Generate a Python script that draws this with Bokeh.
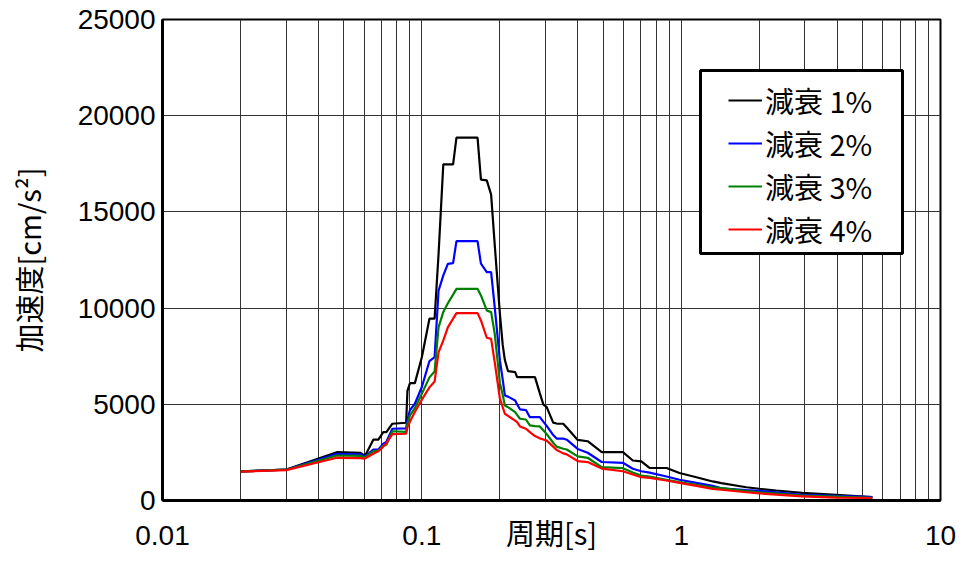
from bokeh.plotting import figure
from bokeh.models import (FixedTicker, Legend, LegendItem, BoxAnnotation,
                          ColumnDataSource)
from bokeh.embed import file_html
from bokeh.resources import INLINE

# ---------------- data ----------------
period = [0.020, 0.030, 0.047, 0.058, 0.060, 0.061, 0.065, 0.068, 0.071, 0.073,
          0.077, 0.087, 0.088, 0.090, 0.094, 0.100, 0.107, 0.112, 0.116, 0.121,
          0.126, 0.132, 0.136, 0.164, 0.169, 0.178, 0.185, 0.191, 0.200, 0.205,
          0.209, 0.215, 0.229, 0.233, 0.239, 0.252, 0.261, 0.273, 0.285, 0.294,
          0.303, 0.321, 0.331, 0.351, 0.362, 0.399, 0.436, 0.494, 0.596, 0.651,
          0.702, 0.755, 0.878, 0.985, 1.145, 1.323, 1.429, 1.783, 2.000, 2.326,
          2.928, 3.957, 5.46]

acc_h1 = [1510, 1610, 2510, 2480, 2340, 2430, 3160, 3160, 3550, 3550,
          3990, 4040, 5700, 6100, 6100, 7450, 9450, 9450, 12800, 17470,
          17470, 17470, 18860, 18860, 16680, 16640, 15900, 13300, 9700, 8100,
          7300, 6720, 6670, 6410, 6410, 6410, 6410, 6410, 5580, 5000,
          4850, 4050, 4000, 3990, 3790, 3150, 3080, 2510, 2510, 2080,
          2030, 1690, 1690, 1430, 1210, 990, 900, 690, 610, 520,
          400, 296, 172]

acc_h2 = [1510, 1600, 2430, 2400, 2290, 2340, 2650, 2650, 2950, 3050,
          3730, 3750, 4200, 4700, 5030, 5900, 7250, 7450, 10900, 11700,
          12300, 12340, 13480, 13480, 12310, 11870, 11870, 10050, 7280, 6300,
          5460, 5400, 5200, 5000, 4740, 4700, 4330, 4330, 4330, 4100,
          3880, 3400, 3220, 3220, 3160, 2680, 2480, 2000, 1960, 1650,
          1520, 1450, 1250, 1080, 915, 760, 630, 545, 505, 420,
          300, 236, 172]

acc_h3 = [1510, 1600, 2340, 2320, 2240, 2290, 2550, 2600, 2850, 2900,
          3600, 3570, 4000, 4420, 4800, 5550, 6400, 6700, 9000, 9800,
          10250, 10700, 11000, 11000, 10660, 9880, 9790, 8670, 6100, 5500,
          4940, 4850, 4590, 4450, 4250, 4210, 3900, 3870, 3850, 3650,
          3450, 3000, 2800, 2690, 2650, 2290, 2220, 1730, 1680, 1450,
          1300, 1240, 1080, 952, 817, 686, 640, 487, 420, 357,
          260, 202, 140]

acc_h4 = [1500, 1580, 2220, 2200, 2170, 2220, 2430, 2560, 2800, 2980,
          3450, 3470, 3800, 4100, 4600, 5240, 5880, 6180, 7700, 8320,
          9000, 9450, 9740, 9740, 9360, 8460, 8400, 7190, 5300, 4850,
          4510, 4400, 4150, 4070, 3850, 3730, 3550, 3350, 3230, 3170,
          3110, 2800, 2620, 2450, 2400, 2050, 1995, 1660, 1520, 1350,
          1210, 1175, 1040, 920, 760, 605, 560, 430, 370, 305,
          210, 150, 130]

series_labels = ["減衰 1%", "減衰 2%", "減衰 3%", "減衰 4%"]
series_colors = ["#000000", "#0000FF", "#008000", "#FF0000"]

x_ticks = [0.01, 0.1, 1, 10]
x_tick_labels = ["0.01", "0.1", "1", "10"]
y_ticks = [0, 5000, 10000, 15000, 20000, 25000]

x_title = "周期[s]"
y_title = "加速度[cm/s²]"

# ---------------- styling ----------------
NUM_FONT = "Liberation Sans"
JP_FONT = "Noto Sans CJK JP"
GRID = "#333333"

p = figure(frame_width=778, frame_height=481, x_axis_type="log",
           x_range=(0.01, 10), y_range=(0, 25000),
           output_backend="svg", toolbar_location=None, title=None,
           min_border_left=162, min_border_right=24,
           min_border_top=19, min_border_bottom=63)

p.background_fill_color = "white"
p.border_fill_color = "white"
p.outline_line_color = "black"
p.outline_line_width = 2

minor = [m * 10.0 ** e for e in (-2, -1, 0) for m in range(2, 10)]
xt = FixedTicker(ticks=x_ticks, minor_ticks=minor)
yt = FixedTicker(ticks=y_ticks)

p.xaxis.ticker = xt
p.yaxis.ticker = yt
p.xgrid.ticker = xt
p.ygrid.ticker = yt

p.xaxis.major_label_overrides = dict(zip(x_ticks, x_tick_labels))

for ax in (p.xaxis, p.yaxis):
    ax.axis_line_color = "black"
    ax.axis_line_width = 3
    ax.major_tick_line_color = None
    ax.minor_tick_line_color = None
    ax.major_label_text_font = NUM_FONT
    ax.major_label_text_font_size = "28px"
    ax.major_label_text_color = "black"
    ax.axis_label_text_font = JP_FONT
    ax.axis_label_text_font_size = "29px"
    ax.axis_label_text_font_style = "normal"
    ax.axis_label_text_color = "black"

p.xaxis.major_label_standoff = 19
p.xaxis.axis_label = x_title
p.xaxis.axis_label_standoff = -37

p.yaxis.major_label_text_align = "center"
p.yaxis.major_label_standoff = 1
p.yaxis.axis_label = y_title
p.yaxis.axis_label_standoff = 26

p.xgrid.grid_line_color = GRID
p.xgrid.grid_line_width = 1
p.xgrid.minor_grid_line_color = GRID
p.xgrid.minor_grid_line_width = 1
p.ygrid.grid_line_color = GRID
p.ygrid.grid_line_width = 1

# ---------------- lines ----------------
src = ColumnDataSource(dict(period=period, h1=acc_h1, h2=acc_h2, h3=acc_h3, h4=acc_h4))
renderers = []
for col, color in zip(["h1", "h2", "h3", "h4"], series_colors):
    r = p.line("period", col, source=src, line_color=color, line_width=2.2)
    renderers.append(r)

# ---------------- legend ----------------
box = BoxAnnotation(left=538, right=740, top=430, bottom=247,
                    left_units="screen", right_units="screen",
                    top_units="screen", bottom_units="screen",
                    fill_color="white", fill_alpha=1.0,
                    line_color="black", line_alpha=1.0, line_width=3)
p.add_layout(box)

legend = Legend(items=[LegendItem(label=l, renderers=[r])
                       for l, r in zip(series_labels, renderers)],
                location=(566, 250), padding=0, margin=0, spacing=1,
                label_height=36, glyph_height=36, glyph_width=34,
                label_standoff=3,
                label_text_font=JP_FONT, label_text_font_size="29px",
                label_text_color="black",
                border_line_alpha=0, background_fill_alpha=0)
p.add_layout(legend)

open("out.html", "w").write(file_html(p, INLINE))
